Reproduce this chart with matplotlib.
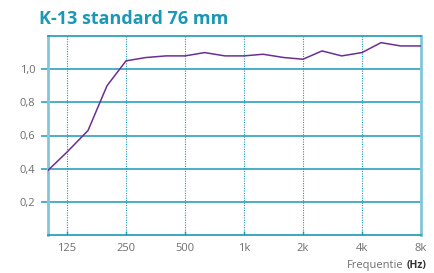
import matplotlib
matplotlib.use("Agg")
import matplotlib.pyplot as plt
from matplotlib.ticker import FixedLocator, NullLocator

plt.rcParams['font.family'] = ['Open Sans', 'DejaVu Sans']

# 1/3 octave bands (Hz) and absorption coefficient
freqs = [100, 125, 160, 200, 250, 315, 400, 500, 630, 800, 1000, 1250,
         1600, 2000, 2500, 3150, 4000, 5000, 6300, 8000]
alpha = [0.39, 0.50, 0.63, 0.90, 1.05, 1.07, 1.08, 1.08, 1.10, 1.08, 1.08, 1.09,
         1.07, 1.06, 1.11, 1.08, 1.10, 1.16, 1.14, 1.14]

xticks = [125, 250, 500, 1000, 2000, 4000, 8000]
xlabels = ['125', '250', '500', '1k', '2k', '4k', '8k']
yticks = [0.2, 0.4, 0.6, 0.8, 1.0]
ylabels = ['0,2', '0,4', '0,6', '0,8', '1,0']

teal = '#1b98b6'
light = '#82c6d8'
purple = '#6b2f93'
grey = '#6e6e6e'

fig = plt.figure(figsize=(4.34, 2.73), dpi=100)
ax = fig.add_axes([48/434, 38/273, 373/434, 199/273])

ax.set_xscale('log', base=2)
ax.set_xlim(100, 8000)
ax.set_ylim(0, 1.2)

for y in yticks:
    ax.axhline(y, color=teal, lw=1.1, zorder=1)
for x in xticks[:-1]:
    ax.axvline(x, color=teal, lw=0.8, ls=(0, (1, 1.2)), zorder=1)

ax.plot(freqs, alpha, color=purple, lw=1.1, zorder=3)

ax.xaxis.set_major_locator(FixedLocator(xticks))
ax.xaxis.set_minor_locator(NullLocator())
ax.set_xticklabels(xlabels)
ax.set_yticks(yticks)
ax.set_yticklabels(ylabels)
ax.yaxis.set_minor_locator(NullLocator())

ax.tick_params(axis='x', direction='in', length=3, width=1, color=teal,
               labelsize=8, labelcolor=grey, pad=6)
ax.tick_params(axis='y', direction='out', length=5, width=1.1, color=teal,
               labelsize=8, labelcolor=grey, pad=4)

ax.spines['left'].set_color(light)
ax.spines['left'].set_linewidth(2)
ax.spines['right'].set_color(light)
ax.spines['right'].set_linewidth(2)
ax.spines['top'].set_color(teal)
ax.spines['top'].set_linewidth(1.2)
ax.spines['bottom'].set_color(teal)
ax.spines['bottom'].set_linewidth(1.2)

fig.text(39/434, 1 - 19/273, 'K-13 standard 76 mm', color=teal, fontsize=13,
         fontweight='bold', va='center', ha='left')
fig.text(403/434, 1 - 268/273, 'Frequentie', color=grey, fontsize=8,
         va='baseline', ha='right')
fig.text(407/434, 1 - 268/273, '(Hz)', color='#333333', fontsize=7.5,
         fontweight='bold', va='baseline', ha='left')

fig.savefig('out.png', dpi=100)
